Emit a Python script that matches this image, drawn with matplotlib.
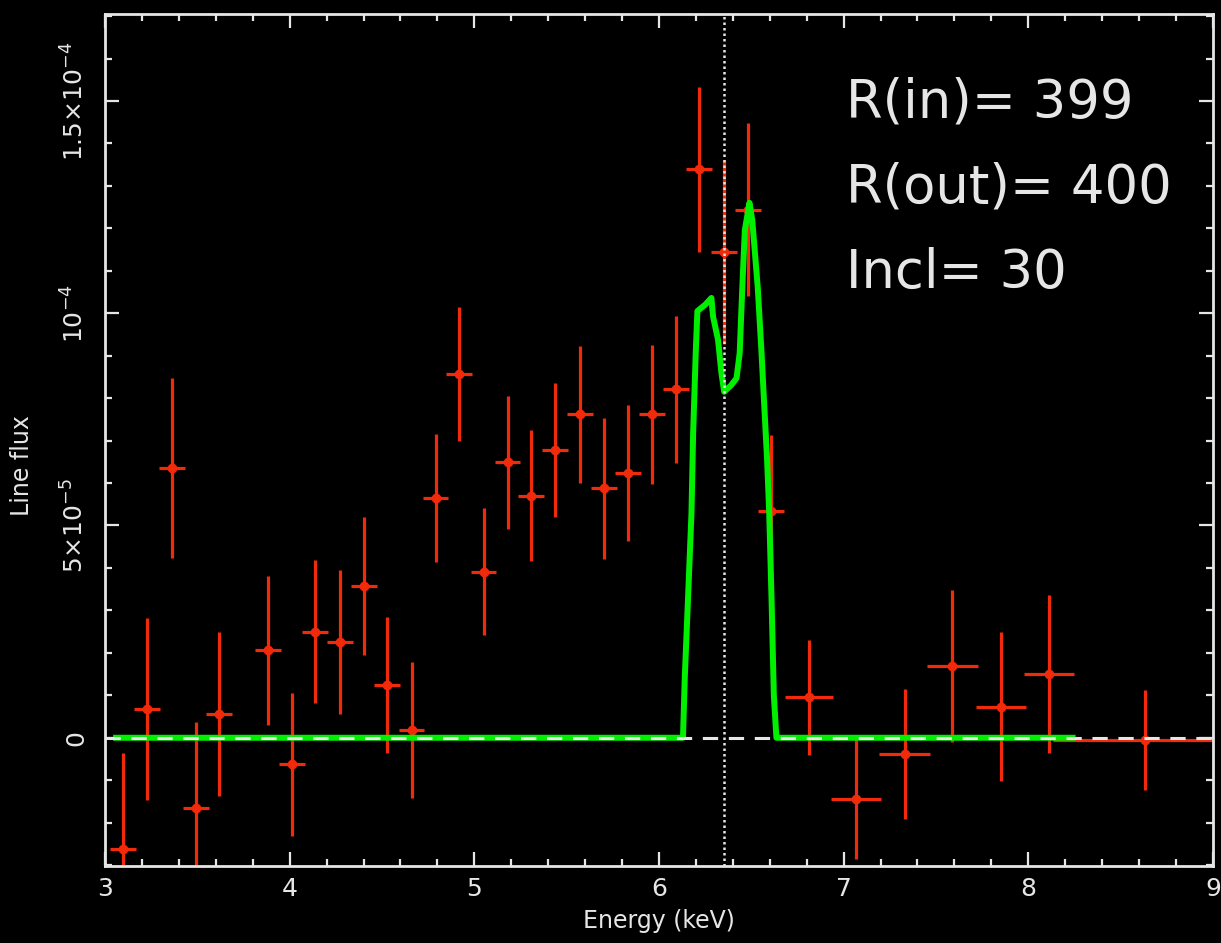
import numpy as np
import matplotlib.pyplot as plt
from matplotlib.ticker import FixedLocator, FixedFormatter, MultipleLocator

# Data points (energy keV, line flux)
energy = [3.099, 3.229, 3.361, 3.493, 3.619, 3.881, 4.011, 4.139, 4.272, 4.402,
          4.528, 4.660, 4.790, 4.919, 5.050, 5.180, 5.307, 5.437, 5.572, 5.700,
          5.830, 5.962, 6.090, 6.218, 6.353, 6.483, 6.608, 6.811, 7.069, 7.331,
          7.588, 7.851, 8.113, 8.632]
energy_err = [0.070] * 27 + [0.131, 0.135, 0.137, 0.137, 0.135, 0.137, 0.496]
flux = np.array([-26.3, 6.8, 63.5, -16.5, 5.6, 20.6, -6.3, 25.0, 22.5, 35.7,
                 12.4, 1.8, 56.4, 85.7, 39.1, 64.9, 57.0, 67.8, 76.2, 58.8,
                 62.4, 76.2, 82.1, 133.9, 114.4, 124.4, 53.4, 9.5, -14.5, -3.8,
                 16.9, 7.3, 15.0, -0.5]) * 1e-6
flux_err = np.array([22.6, 21.5, 21.2, 20.3, 19.4, 17.5, 16.8, 16.8, 16.9, 16.3,
                     16.0, 16.0, 15.1, 15.7, 15.0, 15.7, 15.4, 15.7, 16.1, 16.6,
                     16.1, 16.4, 17.3, 19.4, 21.6, 20.4, 18.0, 13.6, 14.1, 15.3,
                     17.9, 17.5, 18.7, 11.8]) * 1e-6

# Model line profile
model_e = [3.06, 6.13, 6.14, 6.158, 6.176, 6.185, 6.199, 6.208, 6.25, 6.284, 6.293,
           6.32, 6.338, 6.353, 6.39, 6.42, 6.437, 6.446, 6.455, 6.465, 6.49, 6.505,
           6.535, 6.555, 6.568, 6.585, 6.597, 6.61, 6.622, 6.636, 8.24]
model_flux = np.array([0, 0, 14.5, 33.6, 52.9, 71.7, 90.6, 100.5, 102.0, 103.6, 99.2,
                       93.7, 86.0, 81.5, 83.0, 84.7, 90.6, 100.4, 109.8, 119.6, 126.0, 122.0,
                       106.0, 91.0, 80.0, 66.0, 53.0, 32.0, 10.0, 0, 0]) * 1e-6

line_energy = 6.353
ytick_vals = [0, 5e-5, 1e-4, 1.5e-4]
ytick_labels = ["0", r"5$\times$10$^{-5}$", r"10$^{-4}$", r"1.5$\times$10$^{-4}$"]
xtick_vals = [3, 4, 5, 6, 7, 8, 9]
params = ["R(in)= 399", "R(out)= 400", "Incl= 30"]

fg = "#e6e6e6"
red = "#f02a0a"
green = "#00f000"

fig = plt.figure(figsize=(12.21, 9.43), dpi=100, facecolor="black")
ax = fig.add_axes([0.086, 0.0817, 0.9074, 0.9035], facecolor="black")

ax.errorbar(energy, flux, xerr=energy_err, yerr=flux_err, fmt="o", color=red,
            ms=6, elinewidth=2.3, capsize=0, zorder=2)
ax.plot(model_e, model_flux, color=green, lw=4.3, zorder=3)
ax.axhline(0, color=fg, lw=2.2, dashes=(5, 3.5), zorder=4)
ax.axvline(line_energy, color=fg, lw=1.8, linestyle=(0, (1, 1.2)), zorder=5)

ax.set_xlim(3, 9)
ax.set_ylim(-3.02e-5, 1.705e-4)

ax.xaxis.set_major_locator(FixedLocator(xtick_vals))
ax.xaxis.set_minor_locator(MultipleLocator(0.2))
ax.yaxis.set_major_locator(FixedLocator(ytick_vals))
ax.yaxis.set_major_formatter(FixedFormatter(ytick_labels))
ax.yaxis.set_minor_locator(MultipleLocator(1e-5))

ax.tick_params(which="both", direction="in", colors=fg, top=True, right=True, width=1.6)
ax.tick_params(which="major", length=10, labelsize=18)
ax.tick_params(which="minor", length=5)
ax.tick_params(axis="x", pad=8)
ax.tick_params(axis="y", labelrotation=90, pad=12)
for lab in ax.get_yticklabels():
    lab.set_va("center")

for s in ax.spines.values():
    s.set_color(fg)
    s.set_linewidth(2)

ax.set_xlabel("Energy (keV)", color=fg, fontsize=17, labelpad=6)
ax.set_ylabel("Line flux", color=fg, fontsize=17)
ax.yaxis.set_label_coords(-0.064, 0.47)

for i, t in enumerate(params):
    ax.text(0.669, 0.879 - i * 0.1003, t, transform=ax.transAxes, color=fg,
            fontsize=38, va="baseline", ha="left")

fig.savefig("out.png", dpi=100, facecolor="black")
